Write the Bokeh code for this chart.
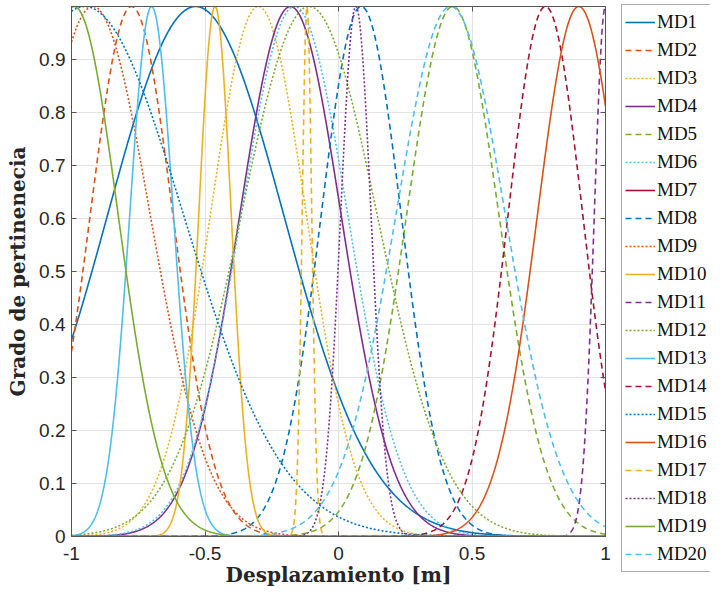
import numpy as np
from bokeh.plotting import figure
from bokeh.layouts import row, column
from bokeh.models import Legend, LegendItem, LinearAxis, FixedTicker, Range1d
from bokeh.embed import file_html
from bokeh.resources import INLINE

# ---- data (Gaussian membership functions: centre, width) ----
names = ["MD1", "MD2", "MD3", "MD4", "MD5", "MD6", "MD7", "MD8", "MD9", "MD10",
         "MD11", "MD12", "MD13", "MD14", "MD15", "MD16", "MD17", "MD18", "MD19", "MD20"]
centers = [-0.535, -0.775, -0.30, -0.18, 0.428, -0.165, 1.25, 0.085, -0.92, -0.4625,
           1.0, -0.11, -0.70, 0.775, -0.95, 0.90, -0.118, 0.065, -0.99, 0.42]
sigmas = [0.33, 0.155, 0.18, 0.19, 0.173, 0.20, 0.05, 0.15, 0.215, 0.061,
          0.042, 0.255, 0.082, 0.14, 0.37, 0.155, 0.018, 0.057, 0.165, 0.205]

x_ticks = [-1, -0.5, 0, 0.5, 1]
x_tick_labels = ["-1", "-0.5", "0", "0.5", "1"]
y_ticks = [0, 0.1, 0.2, 0.3, 0.4, 0.5, 0.6, 0.7, 0.8, 0.9]
y_tick_labels = ["0", "0.1", "0.2", "0.3", "0.4", "0.5", "0.6", "0.7", "0.8", "0.9"]

palette = ["#0072BD", "#D95319", "#EDB120", "#7E2F8E", "#77AC30", "#4DBEEE", "#A2142F"]
dash_cycle = ["solid", "6 4", "2 2"]
LW = 1.6

xs = np.linspace(-1, 1, 1201)
curves = [np.exp(-((xs - c) ** 2) / (2 * s ** 2)) for c, s in zip(centers, sigmas)]

p = figure(width=621, height=589, output_backend="svg", toolbar_location=None,
           x_range=Range1d(-1, 1), y_range=Range1d(0, 1),
           min_border_left=71, min_border_right=16, min_border_top=6, min_border_bottom=53)
p.background_fill_color = "white"
p.outline_line_color = "#555555"
p.outline_line_width = 1

for i, ys in enumerate(curves):
    p.line(xs, ys, line_color=palette[i % 7], line_dash=dash_cycle[i % 3], line_width=LW)

# axes
for ax in (p.xaxis[0], p.yaxis[0]):
    ax.axis_line_color = "#555555"
    ax.major_tick_line_color = "#555555"
    ax.major_tick_in = 5
    ax.major_tick_out = 0
    ax.minor_tick_line_color = None
    ax.major_label_text_font = "Liberation Sans"
    ax.major_label_text_font_size = "19px"
    ax.major_label_text_color = "#262626"
    ax.axis_label_text_font = "DejaVu Serif"
    ax.axis_label_text_font_style = "bold"
    ax.axis_label_text_font_size = "20px"
    ax.axis_label_text_color = "#262626"

p.xaxis[0].ticker = FixedTicker(ticks=x_ticks)
p.xaxis[0].major_label_overrides = dict(zip(x_ticks, x_tick_labels))
p.xaxis[0].major_label_standoff = 10
p.xaxis[0].axis_label = "Desplazamiento [m]"
p.xaxis[0].axis_label_standoff = 0

p.yaxis[0].ticker = FixedTicker(ticks=y_ticks)
p.yaxis[0].major_label_overrides = dict(zip(y_ticks, y_tick_labels))
p.yaxis[0].major_label_standoff = 6
p.yaxis[0].axis_label = "Grado de pertinenecia"
p.yaxis[0].axis_label_standoff = 6

# box ticks on top and right (no labels)
top = LinearAxis(ticker=FixedTicker(ticks=x_ticks), major_label_text_font_size="1px",
                 major_label_text_color=None,
                 major_label_standoff=0, major_tick_in=5, major_tick_out=0,
                 minor_tick_line_color=None, axis_line_color="#555555",
                 major_tick_line_color="#555555")
right = LinearAxis(ticker=FixedTicker(ticks=y_ticks), major_label_text_font_size="1px",
                   major_label_text_color=None,
                   major_label_standoff=0, major_tick_in=5, major_tick_out=0,
                   minor_tick_line_color=None, axis_line_color="#555555",
                   major_tick_line_color="#555555")
p.add_layout(top, "above")
p.add_layout(right, "right")

p.xgrid.ticker = FixedTicker(ticks=x_ticks)
p.ygrid.ticker = FixedTicker(ticks=y_ticks)
p.xgrid.grid_line_color = "#e3e3e3"
p.ygrid.grid_line_color = "#e3e3e3"

# ---- legend panel (same curves, drawn outside its visible ranges) ----
q = figure(width=89, height=589, output_backend="svg", toolbar_location=None,
           x_range=Range1d(5, 6), y_range=Range1d(5, 6),
           x_axis_type=None, y_axis_type=None, title=None,
           min_border_left=0, min_border_right=0, min_border_top=0, min_border_bottom=0)
q.outline_line_color = None
q.xgrid.visible = False
q.ygrid.visible = False

items = []
for i, (nm, ys) in enumerate(zip(names, curves)):
    r = q.line(xs, ys, line_color=palette[i % 7], line_dash=dash_cycle[i % 3], line_width=LW)
    items.append(LegendItem(label=nm, renderers=[r]))

legend = Legend(items=items, location=(0, 17),
                label_text_font="Liberation Serif", label_text_font_size="19px",
                label_text_color="#111111",
                glyph_width=30, glyph_height=28, label_height=28, label_standoff=2,
                spacing=0, padding=3, margin=0,
                border_line_color="#555555", border_line_width=1,
                background_fill_color="white", background_fill_alpha=1.0)
q.add_layout(legend, "center")

open("out.html", "w").write(file_html(row(p, column(q)), INLINE))
